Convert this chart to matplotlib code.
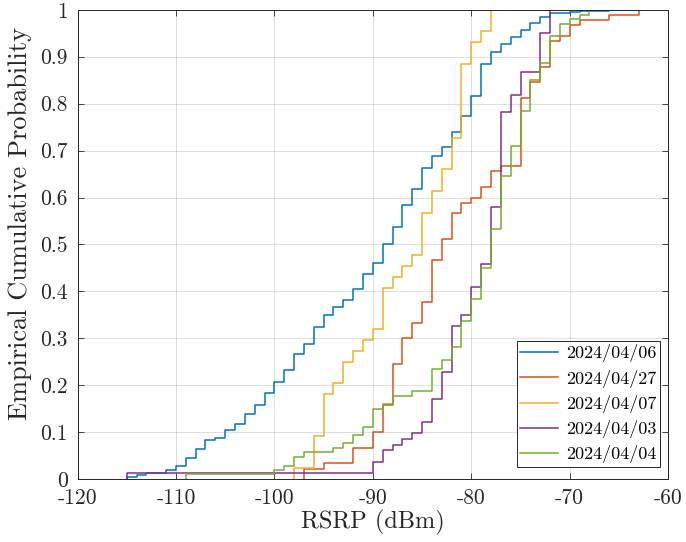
import numpy as np
import matplotlib
matplotlib.use("Agg")
import matplotlib.pyplot as plt

# Empirical CDF of RSRP per measurement day: RSRP levels (dBm) and cumulative probability
rsrp_0406 = [-115, -114, -113, -111, -110, -109, -108, -107, -106, -105, -104, -103,
             -102, -101, -100, -99, -98, -97, -96, -95, -94, -93, -92, -91, -90,
             -89, -88, -87, -86, -85, -84, -83, -82, -81, -80, -79, -78, -77, -76,
             -75, -74, -73, -72, -70, -69, -66]
cdf_0406 = [0.004, 0.008, 0.012, 0.020, 0.028, 0.044, 0.064, 0.083, 0.087, 0.104,
            0.118, 0.138, 0.157, 0.184, 0.207, 0.232, 0.266, 0.287, 0.325, 0.350,
            0.366, 0.381, 0.405, 0.438, 0.460, 0.502, 0.537, 0.585, 0.619, 0.662,
            0.689, 0.708, 0.740, 0.773, 0.816, 0.885, 0.911, 0.926, 0.943, 0.956,
            0.972, 0.984, 0.994, 0.996, 0.998, 1.0]

rsrp_0427 = [-97, -95, -92, -90, -89, -88, -87, -86, -85, -84, -83, -82, -81, -80,
             -79, -78, -77, -75, -74, -73, -72, -71, -70, -69, -66, -63]
cdf_0427 = [0.022, 0.034, 0.067, 0.100, 0.157, 0.245, 0.300, 0.333, 0.378, 0.467,
            0.512, 0.567, 0.589, 0.600, 0.623, 0.656, 0.667, 0.811, 0.846, 0.877,
            0.933, 0.944, 0.967, 0.978, 0.989, 1.0]

rsrp_0407 = [-98, -96, -95, -94, -93, -92, -91, -90, -89, -88, -87, -86, -85, -84,
             -83, -82, -81, -80, -79, -78]
cdf_0407 = [0.023, 0.091, 0.182, 0.205, 0.250, 0.273, 0.296, 0.319, 0.408, 0.431,
            0.454, 0.477, 0.568, 0.613, 0.660, 0.727, 0.885, 0.931, 0.954, 1.0]

rsrp_0403 = [-115, -90, -89, -88, -87, -86, -85, -84, -83, -82, -81, -80, -79, -78,
             -77, -76, -75, -73, -72]
cdf_0403 = [0.012, 0.036, 0.061, 0.073, 0.086, 0.098, 0.121, 0.170, 0.229, 0.326,
            0.350, 0.410, 0.458, 0.579, 0.782, 0.819, 0.867, 0.951, 1.0]

rsrp_0404 = [-109, -100, -99, -98, -97, -94, -93, -92, -91, -90, -89, -88, -86, -84,
             -83, -82, -81, -80, -79, -78, -77, -76, -75, -74, -73, -72, -71, -70,
             -69, -68]
cdf_0404 = [0.011, 0.020, 0.029, 0.048, 0.057, 0.066, 0.077, 0.094, 0.112, 0.150,
            0.160, 0.178, 0.188, 0.235, 0.254, 0.281, 0.337, 0.384, 0.449, 0.533,
            0.645, 0.710, 0.785, 0.850, 0.887, 0.944, 0.970, 0.981, 0.989, 1.0]

series = [
    ("2024/04/06", rsrp_0406, cdf_0406, "#0072BD"),
    ("2024/04/27", rsrp_0427, cdf_0427, "#D95319"),
    ("2024/04/07", rsrp_0407, cdf_0407, "#EDB120"),
    ("2024/04/03", rsrp_0403, cdf_0403, "#7E2F8E"),
    ("2024/04/04", rsrp_0404, cdf_0404, "#77AC30"),
]

x_ticks = [-120, -110, -100, -90, -80, -70, -60]
y_ticks = [0, 0.1, 0.2, 0.3, 0.4, 0.5, 0.6, 0.7, 0.8, 0.9, 1]
y_tick_labels = ["0", "0.1", "0.2", "0.3", "0.4", "0.5", "0.6", "0.7", "0.8", "0.9", "1"]

plt.rcParams["font.family"] = ["cmr10", "DejaVu Serif"]
plt.rcParams["axes.unicode_minus"] = False
plt.rcParams["mathtext.fontset"] = "cm"

fig = plt.figure(figsize=(6.86, 5.42), dpi=100)
ax = fig.add_axes([0.113, 0.116, 0.861, 0.866])

axis_col = "#262626"
for label, xs, fs, col in series:
    xs = np.asarray(xs, dtype=float)
    fs = np.asarray(fs, dtype=float)
    # stairs starting at (min, 0)
    ax.step(np.r_[xs[0], xs], np.r_[0.0, fs], where="post",
            color=col, lw=1.1, label=label)

ax.set_xlim(-120, -60)
ax.set_ylim(0, 1)
ax.set_xticks(x_ticks)
ax.set_yticks(y_ticks)
ax.set_xticklabels([str(t) for t in x_ticks])
ax.set_yticklabels(y_tick_labels)
ax.grid(True, color="#262626", alpha=0.15, lw=0.7)
ax.set_axisbelow(True)
ax.tick_params(direction="in", length=4, width=0.6, colors=axis_col,
               labelsize=15.5, top=True, right=True)
ax.tick_params(axis="x", pad=7)
ax.tick_params(axis="y", pad=7)
for sp in ax.spines.values():
    sp.set_color(axis_col)
    sp.set_linewidth(0.7)

ax.set_xlabel("RSRP (dBm)", fontsize=17.5, color=axis_col, labelpad=1)
ax.set_ylabel("Empirical Cumulative Probability", fontsize=19, color=axis_col)
ax.yaxis.set_label_coords(-0.077, 0.545)

leg = ax.legend(loc="lower right", bbox_to_anchor=(0.9865, 0.026), fontsize=13,
                frameon=True, fancybox=False, edgecolor=axis_col, framealpha=1,
                handlelength=2.1, handletextpad=0.45, borderpad=0.2, labelspacing=0.4,
                borderaxespad=0.0)
leg.get_frame().set_linewidth(0.7)

fig.savefig("out.png", dpi=100)
